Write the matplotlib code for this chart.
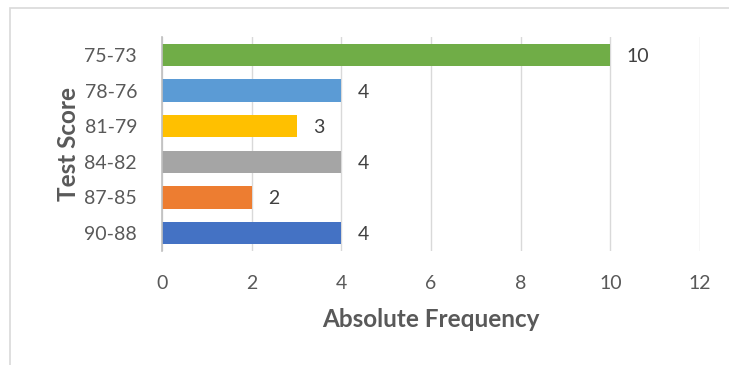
import matplotlib
matplotlib.use("Agg")
import matplotlib.pyplot as plt
from matplotlib.patches import Rectangle

categories = ["90-88", "87-85", "84-82", "81-79", "78-76", "75-73"]
values = [4, 2, 4, 3, 4, 10]
colors = ["#4472C4", "#ED7D31", "#A5A5A5", "#FFC000", "#5B9BD5", "#70AD47"]
xticks = [0, 2, 4, 6, 8, 10, 12]

plt.rcParams['font.family'] = ['Lato', 'DejaVu Sans']

W, H = 729, 365
fig = plt.figure(figsize=(W / 100, H / 100), dpi=100)
# outer frame (left and top edges visible)
fig.patches.append(Rectangle((9.5 / W, -0.1), 1.2, 1 - 8.5 / H + 0.1,
                             transform=fig.transFigure, fill=False,
                             edgecolor="#D9D9D9", linewidth=1.2))

left, right = 162 / W, 700 / W
top, bottom = 1 - 37 / H, 1 - 251 / H
ax = fig.add_axes([left, bottom, right - left, top - bottom])

y = list(range(len(categories)))
ax.barh(y, values, height=0.62, color=colors, zorder=3)
for yi, v in zip(y, values):
    ax.text(v + 0.37, yi, str(v), va="center_baseline", ha="left", fontsize=14,
            color="#404040")

ax.set_xlim(0, 12)
ax.set_ylim(-0.5, 5.5)
ax.set_xticks(xticks)
ax.set_yticks(y)
ax.set_yticklabels(categories)
ax.tick_params(axis="both", length=0, labelsize=14, labelcolor="#595959")
ax.tick_params(axis="x", pad=17)
ax.tick_params(axis="y", pad=18)
ax.grid(axis="x", color="#D9D9D9", linewidth=1, zorder=0)
for s in ["top", "right", "bottom"]:
    ax.spines[s].set_visible(False)
ax.spines["left"].set_color("#BFBFBF")
ax.spines["left"].set_linewidth(1.2)
ax.spines["left"].set_zorder(4)

ax.set_xlabel("Absolute Frequency", fontsize=17.5, fontweight="bold",
              color="#595959", labelpad=12)
ax.set_ylabel("Test Score", fontsize=17.5, fontweight="bold",
              color="#595959", labelpad=3)

fig.savefig("out.png", dpi=100)
